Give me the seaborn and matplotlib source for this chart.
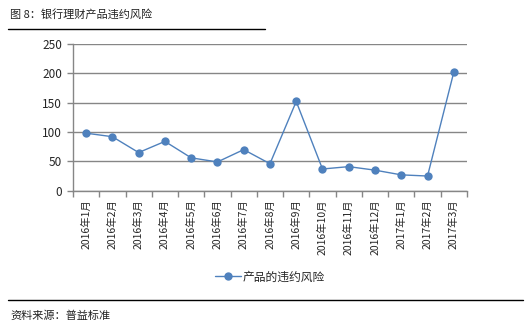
import matplotlib
matplotlib.use("Agg")
import matplotlib.pyplot as plt
import seaborn as sns
import pandas as pd
import numpy as np

months = ["2016年1月", "2016年2月", "2016年3月", "2016年4月", "2016年5月", "2016年6月",
          "2016年7月", "2016年8月", "2016年9月", "2016年10月", "2016年11月", "2016年12月",
          "2017年1月", "2017年2月", "2017年3月"]
values = [98, 92, 65, 84, 56, 49, 70, 46, 152, 37, 41, 35, 27, 25, 202]
series_name = "产品的违约风险"
yticks = [0, 50, 100, 150, 200, 250]

sns.set_theme(style="white")
plt.rcParams['font.family'] = ['Noto Sans CJK SC', 'DejaVu Sans']

df = pd.DataFrame({"month": months, "value": values, "series": series_name})

fig = plt.figure(figsize=(5.3, 3.33), dpi=100)
ax = fig.add_axes([0.1377, 0.4273, 0.881 - 0.1377, 0.868 - 0.4273])

grid_color = "#868686"
line_color = "#4F81BD"

sns.lineplot(data=df, x="month", y="value", hue="series", palette=[line_color],
             marker="o", markersize=6, markeredgewidth=0, linewidth=1.0,
             sort=False, ax=ax, legend=True)

ax.set_xlim(-0.5, len(months) - 0.5)
ax.set_ylim(0, 250)
ax.set_yticks(yticks)
ax.set_yticklabels([str(v) for v in yticks], fontsize=8.5)
ax.yaxis.grid(True, color=grid_color, linewidth=1)
ax.set_axisbelow(True)
ax.set_xlabel("")
ax.set_ylabel("")

ax.set_xticks(range(len(months)))
ax.set_xticklabels(months, rotation=90, fontsize=7.5)
ax.set_xticks(np.arange(-0.5, len(months), 1.0), minor=True)
ax.tick_params(axis="x", which="major", length=0, pad=6)
ax.tick_params(axis="x", which="minor", length=4, color=grid_color, width=1, bottom=True)
ax.tick_params(axis="y", which="major", length=4, color=grid_color, width=1, left=True, pad=4)

for s in ["top", "right"]:
    ax.spines[s].set_visible(False)
for s in ["left", "bottom"]:
    ax.spines[s].set_color(grid_color)
    ax.spines[s].set_linewidth(1)

handles, labels = ax.get_legend_handles_labels()
ax.legend(handles, labels, loc="center", bbox_to_anchor=(270 / 530, 1 - 277 / 333),
          bbox_transform=fig.transFigure, frameon=False, fontsize=8.5,
          handlelength=2.2, handletextpad=0.2)

fig.text(10 / 530, 1 - 14 / 333, "图 8：银行理财产品违约风险", fontsize=8, va="center", ha="left", color="#222222")
fig.add_artist(plt.Line2D([8 / 530, 265 / 530], [1 - 29 / 333, 1 - 29 / 333], color="black", linewidth=1))
fig.add_artist(plt.Line2D([8 / 530, 523 / 530], [1 - 300 / 333, 1 - 300 / 333], color="black", linewidth=1))
fig.text(10 / 530, 1 - 316 / 333, "资料来源：普益标准", fontsize=8, va="center", ha="left", color="#222222")

fig.savefig("out.png", dpi=100)
